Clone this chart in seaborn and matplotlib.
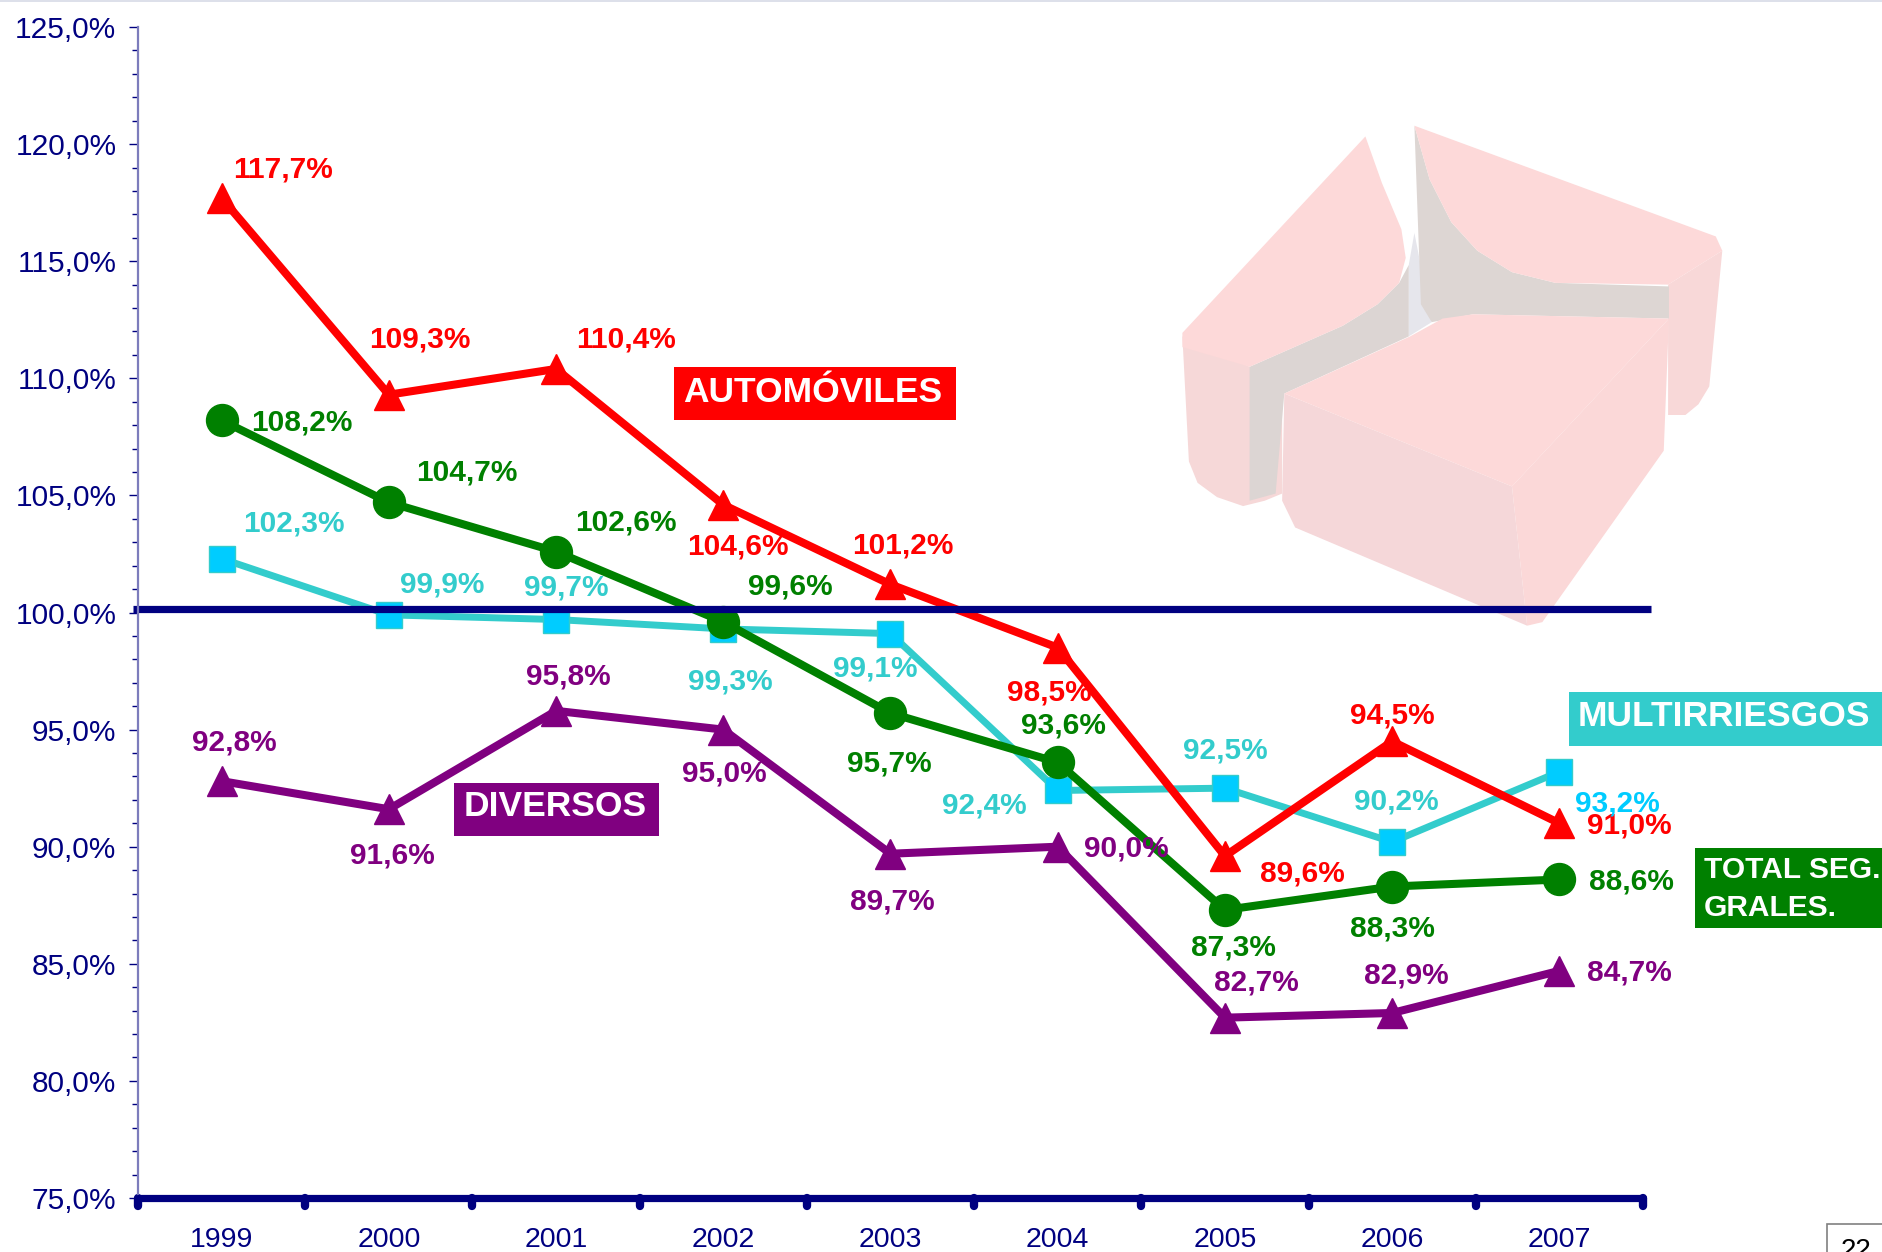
import matplotlib
matplotlib.use('Agg')
import numpy as np
import pandas as pd
import matplotlib.pyplot as plt
import seaborn as sns
from matplotlib.markers import MarkerStyle
from matplotlib.patches import Polygon, Rectangle

# --- data ---
years = ['1999', '2000', '2001', '2002', '2003', '2004', '2005', '2006', '2007']
automoviles = [117.7, 109.3, 110.4, 104.6, 101.2, 98.5, 89.6, 94.5, 91.0]
total_seg = [108.2, 104.7, 102.6, 99.6, 95.7, 93.6, 87.3, 88.3, 88.6]
multirriesgos = [102.3, 99.9, 99.7, 99.3, 99.1, 92.4, 92.5, 90.2, 93.2]
diversos = [92.8, 91.6, 95.8, 95.0, 89.7, 90.0, 82.7, 82.9, 84.7]
reference_level = 100.15

# label offsets from each point, in pixels of the 1568 wide view (x right, y up)
off_auto = [(52, 25), (27, 48), (59, 26), (13, -33), (11, 34), (-6, -36), (65, -13), (1, 23), (59, 0)]
off_total = [(68, 0), (66, 27), (59, 26), (57, 31), (0, -40), (6, 32), (8, -30), (1, -33), (61, 0)]
off_multi = [(61, 31), (45, 27), (9, 28), (7, -42), (-12, -27), (-60, -11), (1, 33), (4, 35), (49, -25)]
off_div = [(11, 34), (4, -37), (11, 30), (2, -35), (2, -38), (58, 0), (27, 31), (13, 33), (59, 0)]

NAVY = '#000080'
RED = '#FF0000'
GREEN = '#008000'
TEAL = '#33CCCC'
SKY = '#00CCFF'
PURPLE = '#800080'

sns.set_theme(style='white')
plt.rcParams['font.family'] = ['Liberation Sans', 'DejaVu Sans']

W, H = 1883, 1252
fig = plt.figure(figsize=(W / 100, H / 100), dpi=100, facecolor='white')

# background layer in pixel coordinates, for the faded logo and the top strip
bg = fig.add_axes([0, 0, 1, 1], zorder=0)
bg.set_xlim(0, W)
bg.set_ylim(H, 0)
bg.axis('off')
bg.add_patch(Rectangle((0, 0), W, 2, color='#DDE0EA', lw=0))


def logo(points, color):
    # points are measured in the zoomed crop of the logo
    pts = [(1100 + px / 2.306, 90 + py / 2.8) for px, py in points]
    bg.add_patch(Polygon(pts, closed=True, facecolor=color, edgecolor='none'))


logo([(712, 490), (725, 400), (765, 650), (712, 690)], '#E6E6EC')
logo([(190, 690), (345, 775), (420, 850), (420, 1130), (380, 1150), (330, 1165), (270, 1140),
      (225, 1100), (205, 1040)], '#F6D8D8')
logo([(345, 775), (560, 660), (640, 600), (690, 540), (712, 490), (712, 690), (425, 850),
      (405, 1130), (345, 1150)], '#DCD5D3')
logo([(190, 680), (612, 130), (650, 260), (695, 390), (705, 470), (690, 540), (640, 600),
      (560, 660), (345, 775), (190, 720)], '#FDD9D9')
logo([(1435, 450), (1405, 830), (1380, 880), (1350, 910), (1310, 910), (1310, 640), (1310, 545)], '#F8D8D8')
logo([(725, 100), (760, 250), (810, 370), (870, 450), (950, 510), (1050, 540), (1312, 550),
      (1312, 640), (860, 628), (765, 650), (740, 600)], '#DDD6D3')
logo([(725, 100), (1420, 410), (1435, 450), (1310, 545), (1050, 540), (950, 510), (870, 450),
      (810, 370), (760, 250)], '#FDD9D9')
logo([(425, 850), (950, 1110), (985, 1500), (450, 1225), (420, 1150)], '#F5D7D9')
logo([(950, 1110), (1312, 640), (1300, 1010), (1020, 1490), (985, 1500)], '#FBD8D8')
logo([(425, 850), (715, 690), (790, 640), (860, 628), (1312, 640), (950, 1110)], '#FDD9D9')

# main chart
ax = fig.add_axes([138 / W, 1 - 1198 / H, (1643 - 138) / W, (1198 - 27) / H], zorder=1)
ax.patch.set_alpha(0)

x = np.arange(len(years))
series = [
    (multirriesgos, TEAL, 's', 19, 5.0, SKY, TEAL),
    (automoviles, RED, '^', 22, 5.8, RED, RED),
    (diversos, PURPLE, '^', 22, 5.8, PURPLE, PURPLE),
    (total_seg, GREEN, 'o', 23, 5.8, GREEN, GREEN),
]
for values, color, marker, size, width, face, edge in series:
    df = pd.DataFrame({'year': x, 'value': values})
    sns.lineplot(data=df, x='year', y='value', ax=ax, color=color, lw=width, marker=marker,
                 markersize=size, markerfacecolor=face, markeredgecolor=edge,
                 markeredgewidth=1, errorbar=None, legend=False, clip_on=False)

ax.plot([-0.53, 8.55], [reference_level, reference_level], color=NAVY, lw=5.2,
        solid_capstyle='butt', clip_on=False, zorder=2.5)

ax.set_xlim(-0.5, 8.5)
ax.set_ylim(75, 125)
ax.set_xlabel('')
ax.set_ylabel('')

ax.set_yticks(np.arange(75, 126, 5))
ax.set_yticklabels([f'{v:.1f}%'.replace('.', ',') for v in np.arange(75, 126, 5)])
ax.set_yticks(np.arange(75, 126, 1), minor=True)
ax.tick_params(axis='y', which='major', length=6.5, width=1, color=NAVY, labelcolor=NAVY,
               labelsize=21.5, pad=9, left=True)
ax.tick_params(axis='y', which='minor', length=4.5, width=1, color=NAVY, left=True)

ax.set_xticks(x)
ax.set_xticklabels(years)
ax.set_xticks(np.arange(-0.5, 9, 1), minor=True)
ax.tick_params(axis='x', which='major', length=0, labelcolor=NAVY, labelsize=20.5, pad=21)
ax.tick_params(axis='x', which='minor', length=6, width=6, color=NAVY, bottom=True)
for tick in ax.xaxis.get_minor_ticks():
    tick.tick1line.set_marker(MarkerStyle(3, capstyle='round'))

for side in ['top', 'right']:
    ax.spines[side].set_visible(False)
ax.spines['left'].set_color('#7C7CBC')
ax.spines['left'].set_linewidth(1.6)
ax.spines['bottom'].set_color(NAVY)
ax.spines['bottom'].set_linewidth(5.2)
ax.spines['bottom'].set_capstyle('round')

# value labels
SCALE = W / 1568
label_sets = [
    (automoviles, off_auto, [RED] * 9),
    (total_seg, off_total, [GREEN] * 9),
    (multirriesgos, off_multi, [TEAL] * 8 + [SKY]),
    (diversos, off_div, [PURPLE] * 9),
]
for values, offsets, colors in label_sets:
    for i, v in enumerate(values):
        dx, dy = offsets[i]
        ax.annotate(f'{v:.1f}%'.replace('.', ','), (i, v), xytext=(dx * SCALE - 1, dy * SCALE - 2),
                    textcoords='offset pixels', ha='center', va='center', fontsize=21.5,
                    fontweight='bold', color=colors[i], zorder=6, annotation_clip=False)

# series name boxes and page number, again in pixel coordinates
top = fig.add_axes([0, 0, 1, 1], zorder=3)
top.set_xlim(0, W)
top.set_ylim(H, 0)
top.axis('off')


def name_box(x0, y0, x1, y1, color):
    top.add_patch(Rectangle((x0, y0), x1 - x0, y1 - y0, facecolor=color, edgecolor='none'))


name_box(674, 367, 956, 420, RED)
top.text(683, 392, 'AUTOMÓVILES', color='white', fontsize=25.5, fontweight='bold', va='center')
name_box(454, 783, 659, 836, PURPLE)
top.text(464, 807, 'DIVERSOS', color='white', fontsize=25.5, fontweight='bold', va='center')
name_box(1569, 692, 1883, 746, TEAL)
top.text(1578, 717, 'MULTIRRIESGOS', color='white', fontsize=25.5, fontweight='bold', va='center')
name_box(1695, 848, 1883, 928, GREEN)
top.text(1704, 889, 'TOTAL SEG.\nGRALES.', color='white', fontsize=21.5, fontweight='bold',
         va='center', linespacing=1.45)

top.add_patch(Rectangle((1827, 1224), 70, 60, facecolor='white', edgecolor='#808080', lw=1.2))
top.text(1856, 1251, '22', color='black', fontsize=20, ha='center', va='center')

fig.savefig('out.png', dpi=100)
